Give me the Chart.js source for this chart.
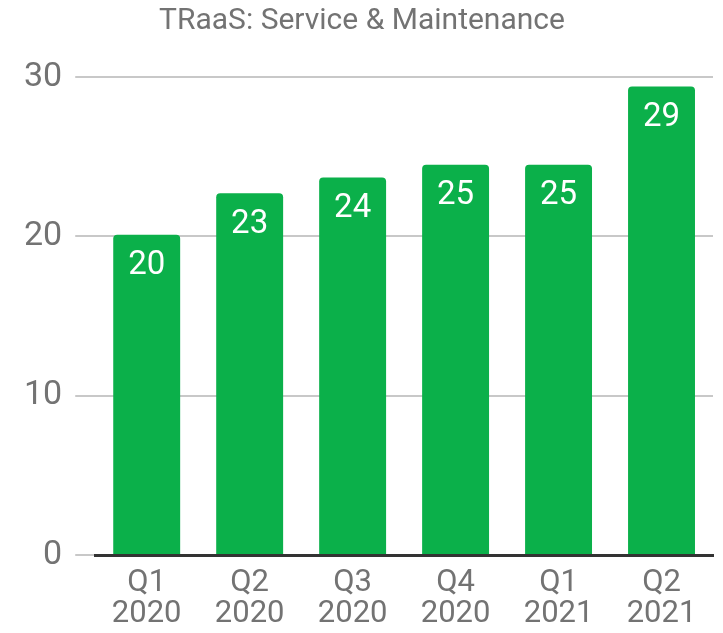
<!DOCTYPE html>
<html>
<head>
<meta charset="utf-8">
<script src="https://cdn.jsdelivr.net/npm/chart.js@4"></script>
<style>
  html, body { margin: 0; padding: 0; background: #fff; }
  #wrap { width: 723px; height: 633px; }
</style>
</head>
<body>
<div id="wrap"><canvas id="bar-chart"></canvas></div>
<script>
// data
var quarters = [["Q1", "2020"], ["Q2", "2020"], ["Q3", "2020"], ["Q4", "2020"], ["Q1", "2021"], ["Q2", "2021"]];
var serviceValues = [20.1, 22.7, 23.7, 24.5, 24.5, 29.4];
var yTicks = [0, 10, 20, 30];

var green = "#0bb04a";
var grey = "#737373";

// white value labels inside the top of each bar
var valueLabels = {
    id: "valueLabels",
    afterDatasetsDraw: function(chart) {
        var ctx = chart.ctx;
        var meta = chart.getDatasetMeta(0);
        ctx.save();
        ctx.fillStyle = "#fff";
        ctx.font = "33px Roboto";
        ctx.textAlign = "center";
        ctx.textBaseline = "middle";
        meta.data.forEach(function(bar, i) {
            ctx.fillText(Math.round(serviceValues[i]), bar.x, bar.y + 31);
        });
        ctx.restore();
    }
};

new Chart(document.getElementById("bar-chart"), {
    type: 'bar',
    data: {
        labels: quarters,
        datasets: [{
            data: serviceValues,
            backgroundColor: green,
            borderRadius: 4,
            borderSkipped: 'bottom',
            categoryPercentage: 0.65,
            barPercentage: 1
        }]
    },
    options: {
        responsive: true,
        maintainAspectRatio: false,
        animation: false,
        layout: { padding: { left: 11, right: 10, top: 0, bottom: -10 } },
        plugins: {
            legend: { display: false },
            tooltip: { enabled: false },
            title: {
                display: true,
                text: 'TRaaS: Service & Maintenance',
                color: grey,
                font: { family: 'Roboto', size: 30, weight: 'normal', lineHeight: 1.2 },
                padding: { top: 3, bottom: 38 }
            }
        },
        scales: {
            x: {
                grid: { display: false, drawTicks: false },
                border: { color: '#333', width: 3 },
                ticks: {
                    color: grey,
                    font: { family: 'Roboto', size: 31, lineHeight: 1.0 },
                    padding: 13,
                    maxRotation: 0
                }
            },
            y: {
                min: 0,
                max: 30,
                afterBuildTicks: function(axis) {
                    axis.ticks = yTicks.map(function(v) { return { value: v }; });
                },
                border: { display: false },
                grid: { color: '#c8c8c8', lineWidth: 2, tickLength: 20 },
                ticks: {
                    color: grey,
                    font: { family: 'Roboto', size: 34 },
                    padding: 13
                }
            }
        }
    },
    plugins: [valueLabels]
});
</script>
</body>
</html>
